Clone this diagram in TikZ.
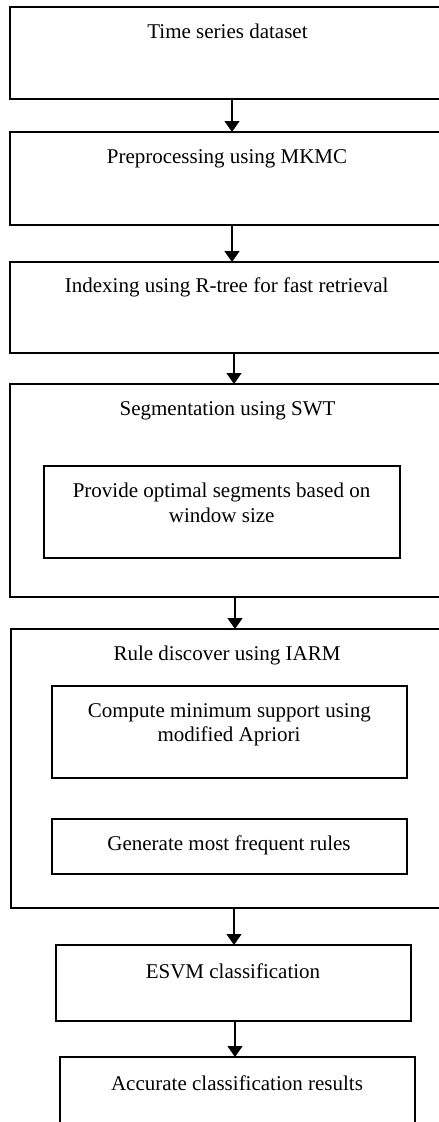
\documentclass[tikz,border=0pt]{standalone}
\usepackage{fontspec}
\setmainfont{Liberation Serif}
\usetikzlibrary{arrows.meta}
\begin{document}
\begin{tikzpicture}[x=1pt,y=-1pt,
  box/.style={draw=black,line width=1.3pt,rectangle,inner sep=0pt,outer sep=0pt},
  txt/.style={font=\fontsize{21}{25}\selectfont,inner sep=0pt,anchor=base},
  arr/.style={line width=1.3pt,-{Triangle[width=15pt,length=11pt]}}]
\clip (0,0) rectangle (439,1122);
\fill[white] (0,0) rectangle (439,1122);
% outer boxes
\node[box,minimum width=444pt,minimum height=92pt] (b1) at (232,53) {};
\node[box,minimum width=444pt,minimum height=93pt] (b2) at (232,178.5) {};
\node[box,minimum width=448pt,minimum height=91pt] (b3) at (234,307.5) {};
\node[box,minimum width=450pt,minimum height=213pt] (b4) at (235,490.5) {};
\node[box,minimum width=356pt,minimum height=92pt] (i4) at (222,512) {};
\node[box,minimum width=446pt,minimum height=279pt] (b5) at (234,768.5) {};
\node[box,minimum width=355pt,minimum height=92pt] (i5a) at (229.5,732) {};
\node[box,minimum width=355pt,minimum height=55pt] (i5b) at (229.5,846.5) {};
\node[box,minimum width=355pt,minimum height=76pt] (b6) at (233.5,983) {};
\node[box,minimum width=355pt,minimum height=83pt] (b7) at (237.5,1098.5) {};
% texts
\node[txt] (t1) at (227.5,38) {Time series dataset};
\node[txt] (t2) at (227,163) {Preprocessing using MKMC};
\node[txt] (t3) at (226.7,292) {Indexing using R-tree for fast retrieval};
\node[txt] (t4) at (227.5,415) {Segmentation using SWT};
\node[txt] (t4a) at (221.5,497) {Provide optimal segments based on};
\node[txt] (t4b) at (221.7,522) {window size};
\node[txt] (t5) at (227,660) {Rule discover using IARM};
\node[txt] (t5a) at (229.3,717) {Compute minimum support using};
\node[txt] (t5b) at (229,741) {modified Apriori};
\node[txt] (t5c) at (229,850) {Generate most frequent rules};
\node[txt] (t6) at (233,978) {ESVM classification};
\node[txt] (t7) at (237,1090) {Accurate classification results};
% arrows
\draw[arr] (b1.south) -- (b1.south |- b2.north);
\draw[arr] (b2.south) -- (b2.south |- b3.north);
\draw[arr] (b3.south) -- (b3.south |- b4.north);
\draw[arr] (b4.south) -- (b4.south |- b5.north);
\draw[arr] (b5.south) -- (b5.south |- b6.north);
\draw[arr] ([xshift=1.5pt]b6.south) -- ([xshift=1.5pt]b6.south |- b7.north);
\end{tikzpicture}
\end{document}
